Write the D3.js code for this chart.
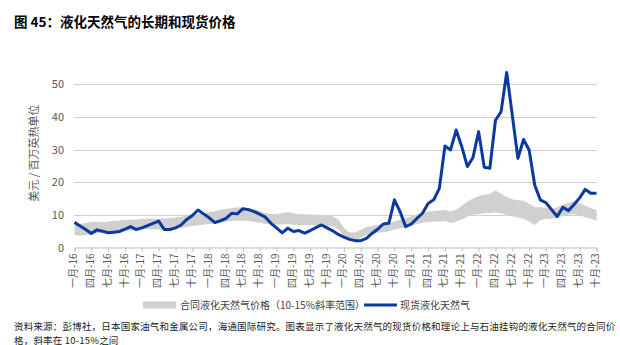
<!DOCTYPE html>
<html><head><meta charset="utf-8">
<script src="https://cdn.jsdelivr.net/npm/d3@7"></script>
<style>body{margin:0;background:#fff}svg{display:block}</style>
</head><body><svg id="c" width="620" height="345"></svg>
<script>
const tickLabels = ["一月-16","四月-16","七月-16","十月-16","一月-17","四月-17","七月-17","十月-17",
 "一月-18","四月-18","七月-18","十月-18","一月-19","四月-19","七月-19","十月-19",
 "一月-20","四月-20","七月-20","十月-20","一月-21","四月-21","七月-21","十月-21",
 "一月-22","四月-22","七月-22","十月-22","一月-23","四月-23","七月-23","十月-23"];
const yTicks = [0,10,20,30,40,50];
const spot = [7.7,6.6,5.5,4.3,5.4,5.0,4.5,4.7,4.9,5.6,6.4,5.5,6.0,6.7,7.4,8.1,5.5,5.5,6.0,6.9,
 8.6,9.8,11.5,10.3,9.1,7.6,8.2,8.9,10.5,10.3,11.9,11.6,11.0,10.2,9.3,7.4,6.0,4.5,5.9,4.9,
 5.2,4.4,5.2,6.1,6.9,6.0,5.1,4.0,3.2,2.5,2.1,2.1,2.8,4.3,5.6,7.2,7.4,14.6,11.0,6.4,
 7.2,8.9,10.5,13.5,14.6,18.1,31.1,29.9,36.0,30.9,24.8,27.6,35.5,24.6,24.3,39.0,41.6,53.6,40.5,27.3,
 33.1,29.9,19.1,14.6,13.7,11.6,9.5,12.3,11.3,13.2,15.2,17.8,16.6,16.6];
const contractLow = [3.8,3.6,3.8,4.1,4.3,4.4,4.6,4.8,4.9,5.0,5.2,5.3,5.5,5.6,5.6,5.5,5.6,5.7,5.8,6.0,
 6.3,6.6,6.8,7.0,7.2,7.4,7.7,7.9,8.1,8.3,8.2,8.1,7.9,7.6,7.3,7.1,7.0,7.1,7.2,7.0,
 6.9,6.9,6.8,6.8,6.8,6.6,6.4,5.6,3.5,2.0,2.2,3.0,3.8,4.3,4.5,4.7,5.0,5.5,5.8,6.2,
 6.6,7.2,7.5,7.8,8.0,8.0,8.1,7.5,7.9,8.6,9.4,10.0,10.3,10.5,10.6,10.7,10.5,10.0,9.6,9.2,
 8.8,8.0,6.8,8.4,8.8,8.7,9.2,9.6,10.0,10.3,9.8,9.3,8.8,8.3];
const contractHigh = [7.0,7.2,7.5,7.8,7.9,7.8,7.9,8.2,8.3,8.4,8.5,8.6,8.8,8.9,8.9,8.8,8.9,9.0,9.2,9.4,
 9.7,10.0,10.4,10.6,10.8,11.2,11.6,11.9,12.0,12.3,12.2,12.1,11.7,11.2,10.6,10.3,10.3,10.6,10.9,10.5,
 10.2,10.2,10.1,10.0,10.0,9.9,9.6,8.6,6.0,4.6,4.6,5.4,6.3,6.6,7.0,7.2,7.5,8.0,8.6,9.0,
 9.6,10.2,10.6,11.0,11.2,11.3,11.5,11.0,11.6,12.8,14.0,15.0,15.8,16.2,16.4,17.5,16.5,15.5,14.8,14.5,
 14.3,13.4,12.3,12.3,12.2,11.8,12.3,13.2,13.6,14.2,13.5,12.8,12.0,11.5];

const svg = d3.select("#c");
const FONT = "'Noto Sans CJK SC','Noto Sans',sans-serif";
const n = spot.length;
const x = d3.scaleLinear().domain([0, n-1]).range([74.5, 596.5]);
const y = d3.scaleLinear().domain([0, 55]).range([247.5, 68]);

// title
svg.append("text").attr("x",14).attr("y",27).attr("font-family",FONT).attr("font-size",13.5)
  .attr("font-weight","bold").attr("fill","#000").text("图 45：液化天然气的长期和现货价格");

// gridlines
svg.append("g").selectAll("line").data(yTicks.filter(d=>d>0)).join("line")
  .attr("x1",74).attr("x2",597).attr("y1",d=>Math.round(y(d))+0.5).attr("y2",d=>Math.round(y(d))+0.5)
  .attr("stroke","#cfcfcf").attr("stroke-width",1);

// band
const idx = d3.range(n);
svg.append("path").datum(idx)
  .attr("d", d3.area().x(i=>x(i)).y0(i=>y(contractLow[i])).y1(i=>y(contractHigh[i])))
  .attr("fill","#d0d0d0");

// x axis
const xAxis = svg.append("g").attr("transform","translate(0,247.5)")
  .call(d3.axisBottom(x).tickValues(d3.range(0,n,3)).tickSize(4).tickFormat((d,i)=>tickLabels[i]));
xAxis.select(".domain").attr("stroke","#bfbfbf");
xAxis.selectAll(".tick line").attr("stroke","#bfbfbf");
xAxis.selectAll(".tick text").attr("transform","rotate(-90)").attr("x",-6).attr("y",0)
  .attr("dy","0.2em").style("text-anchor","end").attr("font-family",FONT).attr("font-size",10).attr("fill","#595959");

// y axis
const yAxis = svg.append("g").attr("transform","translate(74,0)")
  .call(d3.axisLeft(y).tickValues(yTicks).tickSize(0).tickPadding(10));
yAxis.select(".domain").remove();
yAxis.selectAll("text").attr("font-family",FONT).attr("font-size",11).attr("fill","#595959");

// spot line
svg.append("path").datum(idx)
  .attr("d", d3.line().x(i=>x(i)).y(i=>y(spot[i])))
  .attr("fill","none").attr("stroke","#0b3a9e").attr("stroke-width",3).attr("stroke-linejoin","round");

// y title
svg.append("text").attr("transform","translate(33,153) rotate(-90)").attr("text-anchor","middle")
  .attr("dominant-baseline","central").attr("font-family",FONT).attr("font-size",11).attr("fill","#595959")
  .text("美元 / 百万英热单位");

// legend
const lg = svg.append("g").attr("font-family",FONT).attr("font-size",10).attr("fill","#404040");
lg.append("rect").attr("x",143).attr("y",301.5).attr("width",33).attr("height",7).attr("fill","#d0d0d0");
lg.append("text").attr("x",180).attr("y",308.5).text("合同液化天然气价格（10-15%斜率范围）");
lg.append("line").attr("x1",364).attr("x2",397).attr("y1",305).attr("y2",305).attr("stroke","#0b3a9e").attr("stroke-width",3);
lg.append("text").attr("x",400).attr("y",308.5).text("现货液化天然气");

// source
const src = svg.append("g").attr("font-family",FONT).attr("font-size",9.5).attr("fill","#222").attr("letter-spacing",0.2);
src.append("text").attr("x",14).attr("y",329.5).text("资料来源：彭博社，日本国家油气和金属公司，海通国际研究。图表显示了液化天然气的现货价格和理论上与石油挂钩的液化天然气的合同价");
src.append("text").attr("x",14).attr("y",343.5).text("格，斜率在 10-15%之间");
</script></body></html>
